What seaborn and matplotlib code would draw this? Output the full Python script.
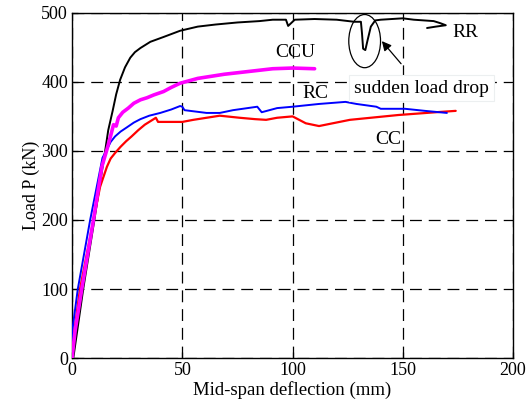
import matplotlib
matplotlib.use("Agg")
import matplotlib.pyplot as plt
from matplotlib.patches import Ellipse
import seaborn as sns
import pandas as pd

# ---- data ----
rr_x = [0, 0.6, 5.1, 10.1, 12.5, 15, 16.4, 18.4, 20, 21.8, 24, 26.4, 28.5, 31, 35.5, 41.5,
        49, 57, 65, 75, 85, 91, 97, 98, 99, 101, 110, 120, 128, 131, 131.5, 132, 133, 134,
        135.5, 137.5, 140, 150, 155, 164, 167, 169.5, 165, 161]
rr_y = [0, 1, 101, 200, 250, 300, 330, 358, 382, 403, 421, 435, 443, 449, 458, 465,
        474, 480, 483, 486, 488, 490, 490, 481, 484, 490, 491, 490, 487, 487, 470, 448, 446, 460,
        480, 489, 490, 492, 490, 488, 485, 482, 480, 478]

ccu_x = [0, 0.5, 1.4, 4.4, 9.7, 13.5, 15.8, 17.5, 18.8, 20, 21, 23, 25.5, 28, 31, 34, 37,
         41.5, 45, 49, 57, 63, 69, 80, 91, 100, 110]
ccu_y = [0, 15, 40, 100, 200, 277, 302, 322, 338, 336, 348, 356, 362, 369, 374, 377, 381,
         386, 392, 398, 405, 408, 411, 415, 419, 420, 419]

rc_x = [0, 0.1, 2.6, 8.2, 13.8, 15.8, 17.5, 19.5, 22, 24.8, 28, 31, 35, 40, 45, 49, 50, 51,
        61, 67, 73, 84, 85, 86, 93, 100, 112, 124, 129, 138, 140, 151, 160, 170]
rc_y = [0, 40, 100, 200, 290, 302, 313, 321, 328, 334, 341, 346, 351, 355, 360, 365, 364, 359,
        355, 355, 359, 364, 360, 356, 362, 364, 368, 371, 368, 364, 361, 361, 358, 355]

cc_x = [0, 0.2, 3.6, 9.7, 12.7, 15.8, 17.5, 19.5, 22, 24.5, 27, 30, 33, 36, 38, 38.5, 39, 50,
        55, 67, 76, 83, 88, 93, 100, 106, 112, 126, 148, 165, 174]
cc_y = [0, 20, 100, 200, 248, 277, 289, 297, 306, 314, 321, 330, 338, 344, 348, 345, 342, 342,
        345, 351, 348, 346, 345, 348, 350, 340, 336, 345, 352, 356, 358]

x_ticks = [0, 50, 100, 150, 200]
y_ticks = [0, 100, 200, 300, 400, 500]

sns.set_theme(style="white")
plt.rcParams['font.family'] = ['Liberation Serif', 'DejaVu Serif']

fig = plt.figure(figsize=(5.30, 4.13), dpi=100)
ax = fig.add_axes([0.136, 0.133, 0.832, 0.836])

series = [
    (rr_x, rr_y, "black", 1.4),
    (cc_x, cc_y, "#ff0000", 1.6),
    (rc_x, rc_y, "#0000ff", 1.4),
    (ccu_x, ccu_y, "#ff00ff", 2.6),
]
for xs, ys, col, lw in series:
    df = pd.DataFrame({"x": xs, "y": ys})
    sns.lineplot(data=df, x="x", y="y", sort=False, estimator=None, color=col,
                 linewidth=lw, ax=ax, zorder=3)

ax.set_xlim(0, 200)
ax.set_ylim(0, 500)
ax.set_xticks(x_ticks)
ax.set_yticks(y_ticks)
ax.grid(True, color="black", linestyle=(0, (9.5, 5.5)), linewidth=0.9)
for s in ax.spines.values():
    s.set_visible(True)
    s.set_color("black")
    s.set_linewidth(1.0)
ax.tick_params(direction="in", length=4, width=0.9, colors="black", labelsize=13,
               pad=3, top=False, right=False, bottom=True, left=True)
ax.set_xlabel("Mid-span deflection (mm)", fontsize=13.5, color="black", labelpad=1)
ax.set_ylabel("Load P (kN)", fontsize=13, color="black", labelpad=1)

tk = dict(fontsize=14, color="black", ha="center", va="center")
ax.text(178.6, 471, "RR", **tk)
ax.text(101, 442, "CCU", **tk)
ax.text(110.5, 383, "RC", **tk)
ax.text(143.6, 316, "CC", **tk)

ax.add_patch(Ellipse((132.7, 459), 14.4, 77, fill=False, edgecolor="black",
                     linewidth=0.9, zorder=4))
ax.annotate("sudden load drop", xy=(140.5, 459), xytext=(158.6, 391),
            fontsize=14, color="black", ha="center", va="center",
            bbox=dict(boxstyle="square,pad=0.25", facecolor="white", edgecolor="#eceff0",
                      linewidth=0.8),
            arrowprops=dict(arrowstyle="-|>", color="black", linewidth=0.9,
                            mutation_scale=14, shrinkA=10, shrinkB=0),
            zorder=5)

fig.savefig("out.png", dpi=100)
